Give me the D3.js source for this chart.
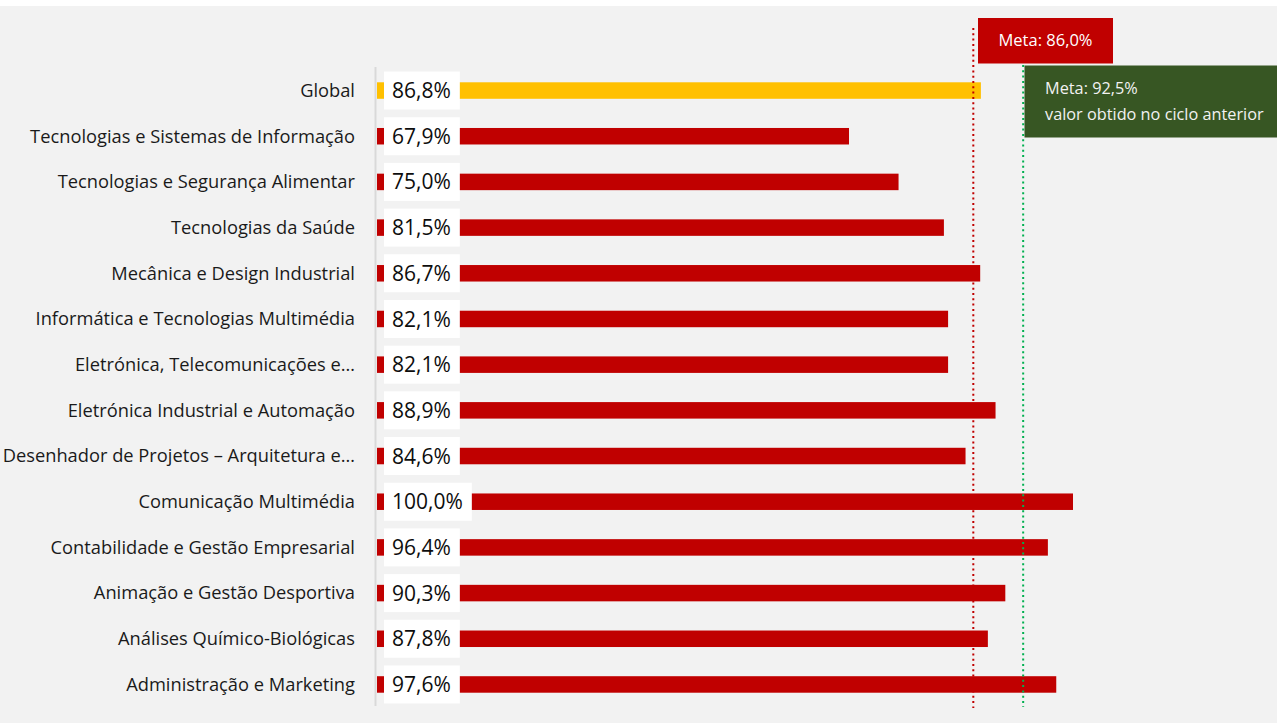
<!DOCTYPE html>
<html><head><meta charset="utf-8">
<script src="https://cdn.jsdelivr.net/npm/d3@7"></script>
<style>body{margin:0;background:#fff}svg{display:block}</style>
</head><body><svg id="c" width="1277" height="723"></svg>
<script>
const categories = ["Global","Tecnologias e Sistemas de Informação","Tecnologias e Segurança Alimentar","Tecnologias da Saúde","Mecânica e Design Industrial","Informática e Tecnologias Multimédia","Eletrónica, Telecomunicações e…","Eletrónica Industrial e Automação","Desenhador de Projetos – Arquitetura e…","Comunicação Multimédia","Contabilidade e Gestão Empresarial","Animação e Gestão Desportiva","Análises Químico-Biológicas","Administração e Marketing"];
const values = [86.8,67.9,75.0,81.5,86.7,82.1,82.1,88.9,84.6,100.0,96.4,90.3,87.8,97.6];
const metaValue = 86.0;
const previousMeta = 92.5;
const metaLabel = "Meta: 86,0%";
const prevLabels = ["Meta: 92,5%","valor obtido no ciclo anterior"];

const svg = d3.select("#c");
const font = "'Open Sans', sans-serif";
svg.append("rect").attr("x",0).attr("y",6).attr("width",1277).attr("height",717).attr("fill","#f2f2f2");

const x = d3.scaleLinear().domain([0,100]).range([375.2,1073]);
const y = d3.scalePoint().domain(categories).range([67.7,707.3]).padding(0.5);
const fmt = d3.formatLocale({decimal:",",thousands:".",grouping:[3],currency:["","€"]}).format(".1f");
const barH = 16.5;

svg.append("line").attr("x1",375.5).attr("x2",375.5).attr("y1",67).attr("y2",706).attr("stroke","#d9d9d9").attr("stroke-width",2);

svg.selectAll("rect.bar").data(categories).join("rect").attr("class","bar")
  .attr("x",377).attr("y",d=>y(d)-barH/2).attr("height",barH)
  .attr("width",(d,i)=>x(values[i])-377)
  .attr("fill",(d,i)=>i===0?"#ffc000":"#c00000");

svg.selectAll("text.cat").data(categories).join("text").attr("class","cat")
  .attr("x",355).attr("y",d=>y(d)).attr("dy","0.35em").attr("text-anchor","end")
  .attr("font-family",font).attr("font-size",18.3).attr("fill","#1a1a1a").text(d=>d);

const vg = svg.selectAll("g.val").data(categories).join("g").attr("class","val");
vg.each(function(d,i){
  const g = d3.select(this);
  const t = g.append("text").attr("x",392).attr("y",y(d)).attr("dy","0.36em")
    .attr("font-family",font).attr("font-size",21).attr("fill","#0d0d0d").text(fmt(values[i])+"%");
  const w = t.node().getComputedTextLength();
  g.insert("rect","text").attr("x",384).attr("y",y(d)-19).attr("width",w+17).attr("height",38).attr("fill","#fff");
});

svg.append("line").attr("x1",x(metaValue)-2).attr("x2",x(metaValue)-2).attr("y1",28).attr("y2",708)
  .attr("stroke","#c00000").attr("stroke-width",2).attr("stroke-dasharray","2,3.3");
svg.append("line").attr("x1",x(previousMeta)+2.5).attr("x2",x(previousMeta)+2.5).attr("y1",65).attr("y2",707)
  .attr("stroke","#00b050").attr("stroke-width",2).attr("stroke-dasharray","2,3.3");

svg.append("rect").attr("x",978).attr("y",18).attr("width",135).attr("height",45.5).attr("fill","#c00000");
svg.append("text").attr("x",1045.5).attr("y",46).attr("text-anchor","middle")
  .attr("font-family",font).attr("font-size",16.5).attr("fill","#fff").text(metaLabel);
svg.append("rect").attr("x",1024.5).attr("y",65.5).attr("width",253).attr("height",72).attr("fill","#375623");
svg.selectAll("text.prev").data(prevLabels).join("text").attr("class","prev")
  .attr("x",1045).attr("y",(d,i)=>94+i*26).attr("font-family",font).attr("font-size",16.3).attr("fill","#f2f2f2").text(d=>d);
</script></body></html>
